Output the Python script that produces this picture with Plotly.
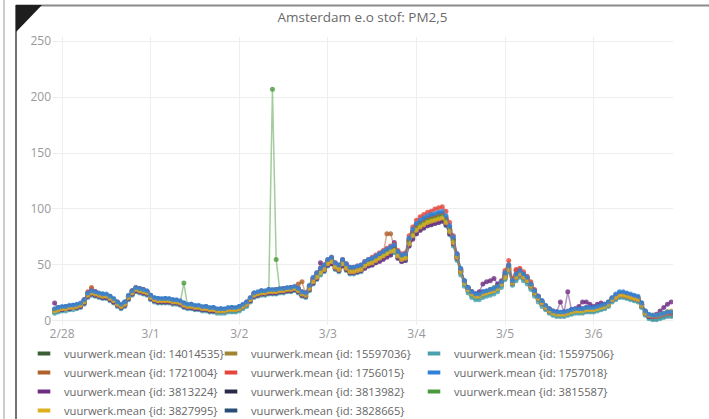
import pandas as pd
import plotly.graph_objects as go

# hourly timestamps
times = pd.date_range("2018-02-27 22:00", periods=168, freq="h")

ids = ["14014535", "15597036", "15597506", "1721004", "1756015", "1757018",
       "3813224", "3813982", "3815587", "3827995", "3828665"]
colors = ["#3b5e34", "#a08430", "#4aa0ac", "#b0602a", "#e4463c", "#2f82d8",
          "#6e2c82", "#2a2a48", "#4c9a3e", "#dcb020", "#284c74"]

s_14014535 = [8,9,10,11,11,12,12,13,16,22,24,23,22,21,21,19,17,14,12,14,20,24,27,26,
              25,24,20,18,17,17,17,17,16,16,15,13,12,12,11,11,10,10,9,9,8,8,8,9,
              9,9,10,12,14,18,22,23,24,24,25,25,25,26,26,27,27,28,26,23,22,28,34,38,
              42,45,50,52,47,45,50,46,43,43,44,45,48,50,51,53,55,57,59,61,62,57,54,55,
              68,75,80,83,85,87,88,89,90,91,87,79,69,56,43,33,27,23,21,21,23,24,25,26,
              28,32,38,45,33,38,41,38,35,30,24,19,15,11,8,6,5,5,5,6,7,8,8,8,
              9,9,9,10,11,12,14,18,20,22,22,21,20,19,18,13,6,3,2,2,3,4,5,5]
s_15597036 = [10,11,11,12,12,13,14,15,18,24,26,25,24,23,22,21,19,16,14,16,22,26,28,28,
              27,25,22,20,19,18,19,18,18,17,17,15,14,13,13,12,12,11,11,10,10,10,9,10,
              11,11,12,13,16,19,24,24,26,26,27,26,27,27,28,28,29,29,28,25,24,30,36,41,
              44,48,52,55,50,48,52,49,46,46,47,48,50,52,54,55,57,59,61,63,65,60,57,58,
              71,78,83,86,88,90,91,92,93,94,90,82,72,58,45,35,29,25,23,23,25,26,27,28,
              30,34,41,48,35,40,43,40,37,32,26,21,17,13,10,8,7,7,7,8,9,10,10,10,
              11,11,11,12,13,14,16,20,22,24,24,23,22,21,20,15,8,5,4,4,5,6,7,7]
s_15597506 = [7,8,9,9,10,10,11,12,15,21,23,22,21,20,20,18,16,13,11,13,19,23,26,25,
              24,23,19,17,16,16,16,16,15,15,14,12,11,11,10,10,9,9,8,8,7,7,7,8,
              8,8,9,11,13,17,21,22,23,23,24,24,24,25,25,26,26,27,25,22,21,27,33,37,
              41,44,49,51,46,44,49,45,42,42,43,44,47,49,50,52,54,56,58,59,61,56,53,54,
              67,74,78,81,83,85,86,87,88,89,85,77,67,54,41,31,25,21,19,19,21,22,23,24,
              26,30,37,44,32,36,39,36,33,28,22,17,13,10,7,5,4,4,4,5,6,7,7,7,
              8,8,8,9,10,11,13,17,19,21,21,20,19,18,17,12,5,2,1,1,2,3,4,4]
s_1721004 = [10,11,12,12,13,13,14,15,18,25,30,26,24,23,23,21,19,16,14,16,22,26,29,28,
             27,26,22,20,19,19,19,19,18,18,17,15,14,14,13,13,12,12,11,11,10,10,10,11,
             11,11,12,14,16,20,24,25,26,26,27,27,27,28,28,29,29,30,33,35,24,30,37,41,
             45,48,53,55,50,48,53,49,46,46,47,48,51,53,54,56,58,60,78,78,66,60,57,58,
             72,79,84,87,89,91,92,93,94,95,91,82,72,58,45,35,29,25,23,23,25,26,27,28,
             31,35,43,50,36,45,46,42,38,33,27,21,17,13,10,8,7,7,7,8,9,10,10,10,
             11,11,11,12,13,14,16,20,22,24,24,23,22,21,20,15,8,5,4,4,5,6,7,7]
s_1756015 = [10,11,12,12,13,13,14,15,19,26,28,26,24,23,23,21,19,16,14,16,22,27,30,29,
             28,26,22,20,19,19,19,19,18,18,17,15,14,14,13,13,12,12,11,11,10,10,10,11,
             11,11,12,14,16,20,24,25,26,26,27,27,28,28,29,29,30,30,29,26,25,31,38,43,
             47,50,55,57,52,50,55,51,48,48,49,50,53,55,57,59,61,63,65,67,69,63,60,61,
             76,84,90,93,95,97,98,100,101,102,98,88,76,60,46,35,29,25,23,23,25,26,27,28,
             31,36,45,54,38,46,47,44,40,35,28,22,17,13,10,8,7,7,7,8,9,10,10,10,
             11,11,11,12,13,14,16,20,22,24,24,23,22,21,20,15,8,5,4,4,5,6,7,7]
s_1757018 = [11,12,13,13,14,14,15,16,19,25,27,26,25,24,24,22,20,17,15,17,23,27,30,29,
             28,27,23,21,20,20,20,20,19,19,18,16,15,15,14,14,13,13,12,12,11,11,11,12,
             12,12,13,15,17,21,25,26,27,27,28,28,28,29,29,30,30,31,29,26,25,32,39,43,
             47,50,55,57,52,50,55,51,48,48,49,50,53,55,56,58,60,62,64,66,68,62,59,60,
             74,82,87,90,92,94,95,96,97,98,94,85,75,60,47,36,30,26,24,24,26,27,28,29,
             31,35,43,50,36,42,45,42,39,33,27,22,18,14,11,9,8,8,8,9,10,11,11,11,
             12,12,12,13,14,15,17,21,24,26,26,25,24,23,22,16,9,6,5,5,6,7,8,8]
s_3813224 = [16,10,10,11,11,12,12,13,16,22,24,23,22,21,21,19,17,14,12,14,20,24,27,26,
             25,24,20,18,17,17,17,17,16,16,15,13,12,12,11,11,10,10,9,9,9,9,9,10,
             10,10,11,13,15,18,22,23,24,24,25,25,25,26,26,27,27,28,26,23,22,28,34,38,
             52,45,50,51,47,45,49,46,43,43,44,45,47,49,50,52,53,55,57,59,70,56,53,54,
             67,73,78,81,83,85,86,87,88,89,86,78,69,56,44,35,29,26,24,26,33,35,36,38,
             33,35,40,46,34,39,42,39,36,31,25,20,16,12,9,8,8,17,8,26,10,11,13,17,
             17,15,13,15,16,15,16,19,21,23,23,22,21,20,19,14,7,4,4,6,9,12,15,17]
s_3813982 = [10,10,12,11,13,12,14,14,18,23,25,25,23,23,22,21,18,16,13,16,21,26,28,28,
             26,26,21,20,18,19,18,19,17,18,16,15,13,14,12,13,11,12,10,11,9,10,10,10,
             11,10,12,13,16,19,24,24,26,25,27,26,27,27,28,28,29,29,28,24,24,29,36,40,
             44,47,52,54,49,47,52,48,45,45,46,47,50,52,53,55,57,59,61,63,65,59,56,57,
             71,78,83,86,88,90,91,92,93,94,90,81,71,57,44,35,28,25,22,23,24,26,26,28,
             29,34,40,47,34,40,42,40,36,32,25,21,16,13,9,8,6,7,6,8,8,10,9,10,
             10,11,10,12,12,14,15,20,21,24,23,23,21,21,19,15,7,5,3,4,4,6,6,7]
s_3815587 = [9,10,11,12,12,13,13,14,17,24,27,25,23,22,22,20,18,15,13,15,21,25,28,27,
             26,25,21,19,18,18,18,18,17,17,16,34,13,13,12,12,11,11,10,10,9,9,9,10,
             10,10,11,13,15,19,23,24,25,25,26,207,55,27,27,28,28,29,27,24,23,29,36,40,
             44,47,52,54,49,47,52,48,45,45,46,47,50,52,53,55,57,59,61,63,64,59,56,57,
             70,77,82,85,87,89,90,91,92,93,89,81,71,57,44,33,27,23,21,22,24,25,26,30,
             32,35,40,47,34,39,42,39,36,31,25,20,16,12,9,7,6,6,6,7,8,9,9,9,
             10,10,10,11,12,13,15,19,21,23,23,22,21,20,19,14,7,4,3,3,4,5,6,6]
s_3827995 = [9,10,11,11,12,12,13,14,17,23,25,24,23,22,22,20,18,15,13,15,21,25,28,27,
             26,25,21,19,18,18,18,18,17,17,16,14,13,13,12,12,11,11,10,10,9,9,9,10,
             10,10,11,13,15,19,23,24,25,25,26,26,26,27,27,28,28,29,27,24,23,29,35,39,
             43,46,51,53,48,46,51,47,44,44,45,46,49,51,52,54,56,58,60,62,63,58,55,56,
             69,76,81,84,86,88,89,90,91,92,88,80,70,57,44,34,28,24,22,22,24,25,26,27,
             29,33,39,46,34,39,42,39,36,31,25,20,16,12,9,7,6,6,6,7,8,9,9,9,
             10,10,10,11,12,13,15,19,21,23,23,22,21,20,19,14,7,5,5,5,6,7,8,9]
s_3828665 = [10,12,12,13,13,14,14,15,19,24,26,26,24,24,23,22,19,17,14,17,22,27,29,29,
             28,26,23,20,20,19,20,19,19,18,17,16,14,15,13,13,12,13,11,12,10,11,10,11,
             12,11,13,14,17,20,25,25,27,26,28,27,28,28,29,29,30,30,29,25,25,31,38,42,
             46,49,54,56,51,49,54,50,47,47,48,49,52,54,55,57,59,61,63,65,67,61,58,59,
             73,80,86,88,91,92,94,94,96,96,92,84,73,59,46,36,30,26,24,23,26,26,28,28,
             31,35,42,49,36,41,44,41,38,33,27,22,18,13,11,9,8,7,8,8,10,10,11,11,
             12,11,12,12,14,14,17,20,23,25,25,24,23,22,21,16,9,5,5,4,6,6,8,7]

series = {"14014535": s_14014535, "15597036": s_15597036, "15597506": s_15597506,
          "1721004": s_1721004, "1756015": s_1756015, "1757018": s_1757018,
          "3813224": s_3813224, "3813982": s_3813982, "3815587": s_3815587,
          "3827995": s_3827995, "3828665": s_3828665}

TITLE = "Amsterdam e.o stof: PM2,5"
X_RANGE = ["2018-02-27 21:17", "2018-03-06 21:30"]
Y_TICKS = [0, 50, 100, 150, 200, 250]

color_of = dict(zip(ids, colors))
draw_order = ["3813982", "14014535", "3828665", "15597036", "1721004", "3815587",
              "15597506", "3813224", "1756015", "3827995", "1757018"]


def rgba(hexc, a):
    h = hexc.lstrip("#")
    r, g, b = int(h[0:2], 16), int(h[2:4], 16), int(h[4:6], 16)
    return f"rgba({r},{g},{b},{a})"


fig = go.Figure()
for sid in draw_order:
    col = color_of[sid]
    fig.add_trace(go.Scatter(
        x=times, y=series[sid], mode="lines+markers", name=f"vuurwerk.mean {{id: {sid}}}",
        line=dict(color=rgba(col, 0.5), width=1.5),
        marker=dict(color=rgba(col, 0.8), size=5),
        showlegend=False,
    ))

# legend entries: three columns, each its own legend
legend_names = ["legend", "legend2", "legend3"]
for i, (sid, col) in enumerate(zip(ids, colors)):
    fig.add_trace(go.Scatter(
        x=[None], y=[None], mode="markers", name=f"vuurwerk.mean {{id: {sid}}}",
        marker=dict(symbol="line-ew", size=9, color=col, line=dict(color=col, width=4)),
        showlegend=True, legend=legend_names[i % 3],
    ))

# plot-area geometry (pixels)
L, R, T, B = 52, 36, 37, 94
W, H = 709, 419
pw, ph = W - L - R, H - T - B


def px(x):
    return (x - L) / pw


def py(y):
    return (H - B - y) / ph


shapes = [
    dict(type="line", xref="paper", yref="paper", x0=px(4), x1=px(4), y0=py(0), y1=py(419),
         line=dict(color="#9a9a9a", width=1)),
    dict(type="line", xref="paper", yref="paper", x0=px(16), x1=px(16), y0=py(5), y1=py(419),
         line=dict(color="#444444", width=1.5)),
    dict(type="line", xref="paper", yref="paper", x0=px(16), x1=px(709), y0=py(5.5), y1=py(5.5),
         line=dict(color="#8a8a8a", width=2)),
    dict(type="path", xref="paper", yref="paper",
         path=f"M {px(16)},{py(5)} L {px(42)},{py(5)} L {px(16)},{py(32)} Z",
         fillcolor="#1e1e1e", line=dict(width=0)),
]

leg_common = dict(orientation="v", xanchor="left", yanchor="top", y=py(339),
                  bgcolor="rgba(0,0,0,0)", font=dict(size=11.2, color="#666666"))

fig.update_layout(
    width=W, height=H,
    margin=dict(l=L, r=R, t=T, b=B, autoexpand=False),
    paper_bgcolor="white", plot_bgcolor="white",
    font=dict(family="Open Sans, sans-serif", size=12, color="#666666"),
    title=dict(text=TITLE, x=0.5, xref="paper", xanchor="center",
               y=1 - 17 / H, yanchor="middle",
               font=dict(size=13.5, color="#6a6a6a")),
    xaxis=dict(type="date", range=X_RANGE, tickformat="%-m/%-d", dtick=86400000,
               showgrid=True, gridcolor="#eeeeee", zeroline=False, showline=False,
               tickfont=dict(size=12, color="#999999")),
    yaxis=dict(range=[-3.6, 253.6], tickvals=Y_TICKS, showgrid=True, gridcolor="#eeeeee",
               zeroline=False, showline=False, tickfont=dict(size=12, color="#999999")),
    legend=dict(x=px(24), **leg_common),
    legend2=dict(x=px(211), **leg_common),
    legend3=dict(x=px(414), **leg_common),
    shapes=shapes,
    showlegend=True,
)

fig.write_html(
    "out.html",
    config={"displayModeBar": False},
    post_script="document.body.style.margin='0px';document.body.style.overflow='hidden';",
)
